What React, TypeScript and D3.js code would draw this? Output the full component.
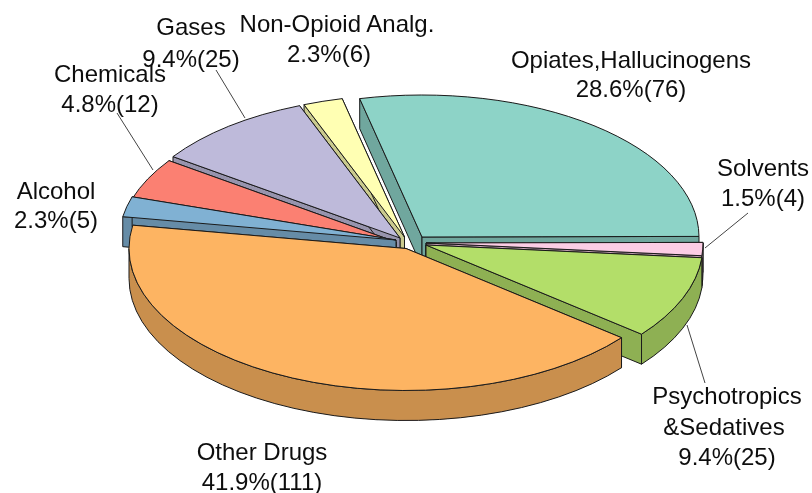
import React from "react";
import * as d3 from "d3";

const names = ["Opiates,Hallucinogens", "Solvents", "Psychotropics &Sedatives", "Other Drugs", "Alcohol", "Chemicals", "Gases", "Non-Opioid Analg."];
const percents = [28.6, 1.5, 9.4, 41.9, 2.3, 4.8, 9.4, 2.3];
const counts = [76, 4, 25, 111, 5, 12, 25, 6];
const colors = ["#8dd3c7", "#fccde5", "#b3de69", "#fdb462", "#80b1d3", "#fb8072", "#bebada", "#ffffb3"];

// exploded apex of each slice, in picture pixels
const apexX = [422, 426, 426, 406, 396, 396, 400, 404.5];
const apexY = [237, 243, 245, 248.5, 240, 242, 238, 237];
// painter's order, back to front
const drawOrder = [0, 7, 6, 5, 4, 1, 2, 3];

const RX = 277, RY = 142, DEPTH = 30;
const FONT = "'Liberation Sans', Arial, sans-serif";
const FS = 24;

const labelLines = [
  { x: 631, y: [68, 97], t: ["Opiates,Hallucinogens", "28.6%(76)"] },
  { x: 763, y: [176, 206], t: ["Solvents", "1.5%(4)"] },
  { x: 727, y: [404], t: ["Psychotropics"] },
  { x: 724, y: [435], t: ["&Sedatives"] },
  { x: 727, y: [465], t: ["9.4%(25)"] },
  { x: 262, y: [460, 490], t: ["Other Drugs", "41.9%(111)"] },
  { x: 56, y: [199, 228], t: ["Alcohol", "2.3%(5)"] },
  { x: 110, y: [82, 112], t: ["Chemicals", "4.8%(12)"] },
  { x: 191, y: [35, 67], t: ["Gases", "9.4%(25)"] },
  { x: 337, y: [32], t: ["Non-Opioid Analg."] },
  { x: 329, y: [62], t: ["2.3%(6)"] },
];
const leaders = [
  [[216, 70], [245, 118]],
  [[117, 113], [153, 170]],
  [[748, 213], [705, 248]],
  [[687, 325], [705, 383]],
];

const pie = d3.pie<number>().sort(null).startAngle((-13 * Math.PI) / 180).endAngle((347 * Math.PI) / 180);

export default function App() {
  const arcs = pie(percents);
  const line = d3.line();
  return (
    <svg width={812} height={493} style={{ position: "absolute", left: 0, top: 0, background: "#fff" }}>
      <defs>
        <filter id="soft" x="0" y="0" width="100%" height="100%">
          <feGaussianBlur stdDeviation="0.45" />
        </filter>
      </defs>
      <g filter="url(#soft)">
        {drawOrder.map((i) => {
          const a = arcs[i];
          const cx = apexX[i], cy = apexY[i];
          const pt = (t: number): [number, number] => [cx + RX * Math.sin(t), cy - RY * Math.cos(t)];
          const [sx, sy] = pt(a.startAngle);
          const [ex, ey] = pt(a.endAngle);
          const large = a.endAngle - a.startAngle > Math.PI ? 1 : 0;
          const top = `M${cx},${cy}L${sx},${sy}A${RX},${RY} 0 ${large} 1 ${ex},${ey}Z`;
          const dark = d3.rgb(colors[i]).darker(0.65).formatHex();
          const quad = (p: [number, number]) =>
            line([[cx, cy], p, [p[0], p[1] + DEPTH], [cx, cy + DEPTH]]) + "Z";
          const f0 = Math.max(a.startAngle, Math.PI / 2);
          const f1 = Math.min(a.endAngle, (3 * Math.PI) / 2);
          let outer: string | null = null;
          if (f1 > f0) {
            const [ax, ay] = pt(f0);
            const [bx, by] = pt(f1);
            outer = `M${ax},${ay}A${RX},${RY} 0 0 1 ${bx},${by}L${bx},${by + DEPTH}A${RX},${RY} 0 0 0 ${ax},${ay + DEPTH}Z`;
          }
          return (
            <g key={names[i]} stroke="#1a1a1a" strokeWidth={1} strokeLinejoin="round">
              <path d={quad(pt(a.startAngle))} fill={dark} />
              <path d={quad(pt(a.endAngle))} fill={dark} />
              {outer && <path d={outer} fill={dark} />}
              <path d={top} fill={colors[i]} />
            </g>
          );
        })}
        {leaders.map((l, i) => (
          <path key={i} d={line(l as [number, number][]) as string} stroke="#444" strokeWidth={1} fill="none" />
        ))}
        <g fontFamily={FONT} fontSize={FS} fill="#111" textAnchor="middle">
          {labelLines.flatMap((l) =>
            l.t.map((s, j) => (
              <text key={s + l.x} x={l.x} y={l.y[j]}>
                {s}
              </text>
            ))
          )}
        </g>
      </g>
    </svg>
  );
}
